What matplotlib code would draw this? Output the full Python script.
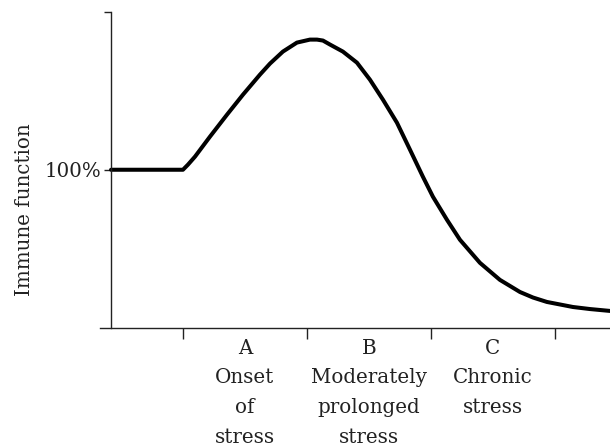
import matplotlib
matplotlib.use("Agg")
import matplotlib.pyplot as plt

# immune function (% of baseline) against stress duration
# x is in "stage" units: ticks at 1, 2, 3, 4, stage labels sit halfway between
stress_time = [0.42, 1.00, 1.040, 1.097, 1.218, 1.355, 1.484, 1.621, 1.702,
               1.806, 1.919, 2.024, 2.081, 2.129, 2.185, 2.290, 2.403, 2.508,
               2.613, 2.726, 2.831, 2.935, 3.016, 3.129, 3.234, 3.395, 3.556,
               3.718, 3.823, 3.935, 4.145, 4.282, 4.444]
immune_pct = [100.0, 100.0, 103.2, 108.3, 121.0, 134.9, 147.6, 160.3, 167.3,
              174.9, 180.6, 182.5, 182.5, 181.9, 179.4, 174.9, 167.9, 157.1,
              144.4, 129.8, 112.7, 95.6, 82.9, 68.3, 55.6, 41.0, 30.2,
              22.5, 19.0, 16.2, 13.0, 11.7, 10.5]

stage_ticks = [1, 2, 3, 4]
stage_pos = [1.5, 2.5, 3.5]
stage_labels = ["A\nOnset\nof\nstress",
                "B\nModerately\nprolonged\nstress",
                "C\nChronic\nstress"]
y_ticks = [100, 200]
y_ticklabels = ["100%", ""]

plt.rcParams["font.family"] = ["DejaVu Serif"]
axis_col = "#222222"

fig = plt.figure(figsize=(6.1, 4.46), dpi=100)
ax = fig.add_axes([100 / 610, 1 - 327.5 / 446, 510 / 610, 315.5 / 446])

ax.plot(stress_time, immune_pct, color="black", lw=2.9,
        solid_capstyle="round", solid_joinstyle="round", clip_on=False)

ax.set_xlim(0.331, 4.444)
ax.set_ylim(0, 200)

for side in ["top", "right"]:
    ax.spines[side].set_visible(False)
ax.spines["left"].set_position(("data", 0.42))
for side in ["left", "bottom"]:
    ax.spines[side].set_color(axis_col)
    ax.spines[side].set_linewidth(1.0)

ax.set_yticks(y_ticks)
ax.set_yticklabels(y_ticklabels, fontsize=14.3)
ax.tick_params(axis="y", direction="out", length=5, width=1.0,
               color=axis_col, pad=2, labelcolor="#222222")

ax.set_xticks(stage_ticks)
ax.set_xticklabels([])
ax.tick_params(axis="x", which="major", direction="out", length=8,
               width=1.0, color=axis_col)
ax.set_xticks(stage_pos, minor=True)
ax.set_xticklabels(stage_labels, minor=True, fontsize=14.3,
                   linespacing=1.72, color="#222222")
ax.tick_params(axis="x", which="minor", length=0, pad=8)

fig.text(25 / 610, 1 - 210 / 446, "Immune function", rotation=90,
         ha="center", va="center", fontsize=14.3, color="#222222")

fig.savefig("out.png", dpi=100)
